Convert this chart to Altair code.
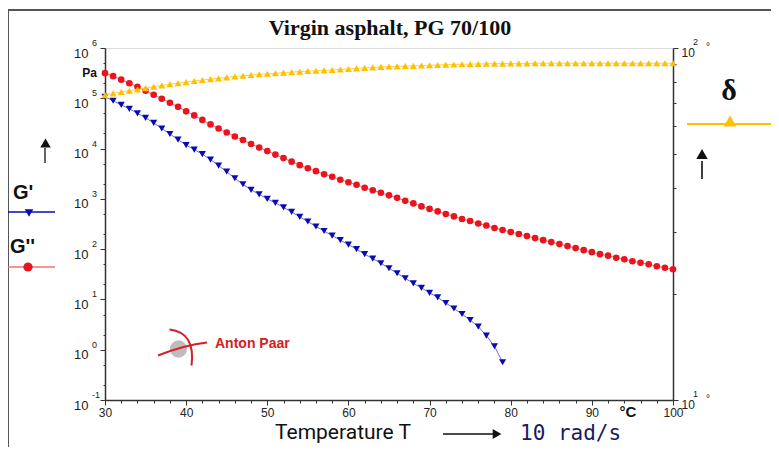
import altair as alt
import pandas as pd

# ---------------- data ----------------
TITLE = "Virgin asphalt, PG 70/100"
X_TITLE = "Temperature T"
FREQ_TEXT = "10 rad/s"
T_UNIT = "°C"
G_UNIT = "Pa"
LOGO_TEXT = "Anton Paar"

T_GP = list(range(30, 80))          # °C
G_PRIME = [107200, 89100, 74100, 61700, 50100, 40700, 32400, 25100, 19500, 15100,
           11700, 9550, 7760, 6030, 4570, 3470, 2570, 1950, 1510, 1230,
           1000, 832, 676, 550, 437, 355, 282, 229, 186, 151,
           123, 100, 79.4, 64.6, 52.5, 41.7, 33.1, 26.3, 20.9, 17.0,
           13.5, 11.0, 8.51, 6.61, 5.13, 3.89, 2.88, 1.91, 1.17, 0.562]

T_GPP = list(range(30, 101))        # °C
G_DPRIME = [316000, 275400, 234400, 199500, 169800, 141300, 117500, 97700, 81300, 67600,
            55000, 45700, 37200, 30200, 25100, 20900, 17400, 14800, 12300, 10500,
            8910, 7590, 6460, 5500, 4680, 4070, 3550, 3090, 2750, 2400,
            2140, 1910, 1660, 1480, 1320, 1175, 1047, 912, 813, 708,
            631, 562, 501, 447, 398, 363, 324, 295, 263, 240,
            219, 200, 182, 166, 151, 138, 126, 115, 105, 95.5,
            87.1, 79.4, 74.1, 67.6, 63.1, 57.5, 53.7, 50.1, 45.7, 42.7,
            39.8]

T_DELTA = list(range(30, 101))      # °C
DELTA = [73.5, 74.3, 75.0, 75.6, 76.2, 76.9, 77.6, 78.3, 78.9, 79.5,
         80.0, 80.6, 81.1, 81.6, 82.0, 82.5, 83.0, 83.4, 83.8, 84.2,
         84.5, 84.8, 85.1, 85.4, 85.7, 86.0, 86.2, 86.4, 86.6, 86.9,
         87.2, 87.5, 87.8, 88.1, 88.4, 88.6, 88.7, 88.9, 89.0, 89.2,
         89.3, 89.5, 89.6, 89.8, 89.9, 90.0, 90.1, 90.2, 90.3, 90.3,
         90.4, 90.4, 90.4, 90.5, 90.5, 90.5, 90.5, 90.5, 90.5, 90.5,
         90.5, 90.5, 90.5, 90.5, 90.5, 90.5, 90.5, 90.5, 90.5, 90.5,
         90.5]

X_TICKS = list(range(30, 101, 2))
LEFT_TICKS = [0.1, 0.2, 0.5, 1, 2, 5, 10, 20, 50, 100, 200, 500, 1000, 2000, 5000,
              10000, 20000, 50000, 100000, 200000, 500000, 1000000]
LEFT_DECADES = [0.1, 1, 10, 100, 1000, 10000, 100000, 1000000]
LEFT_EXPONENTS = ["-1", "0", "1", "2", "3", "4", "5", "6"]
RIGHT_TICKS = [10, 20, 30, 40, 50, 60, 70, 80, 90, 100]
RIGHT_DECADES = [10, 100]
RIGHT_EXPONENTS = ["1", "2"]

# ---------------- styles ----------------
BLUE = "#0a0ab4"
BLUE_LINE = "#6a6ae0"
RED = "#e8141e"
RED_LINE = "#f07070"
YELLOW = "#ffc000"
YELLOW_LINE = "#ffd24a"
AXIS = "#333333"
SANS = "Liberation Sans"

df_gp = pd.DataFrame({"T": T_GP, "value": G_PRIME})
df_gpp = pd.DataFrame({"T": T_GPP, "value": G_DPRIME})
df_d = pd.DataFrame({"T": T_DELTA, "delta": DELTA})
df_lexp = pd.DataFrame({"value": LEFT_DECADES, "exp": LEFT_EXPONENTS})
df_rexp = pd.DataFrame({"delta": RIGHT_DECADES, "exp": RIGHT_EXPONENTS})
dummy = pd.DataFrame({"d": [0]})

MAJ = "abs(log(datum.value)/LN10 - round(log(datum.value)/LN10)) < 0.001"

x_enc = alt.X(
    "T:Q",
    scale=alt.Scale(domain=[30, 100], nice=False, zero=False),
    axis=alt.Axis(
        values=X_TICKS, title=None, grid=False,
        labelExpr="datum.value % 10 == 0 ? datum.label : ''",
        tickSize={"condition": {"test": "datum.value % 10 == 0", "value": 5}, "value": 3},
        labelFlush=False, labelOverlap=False, labelFont=SANS, labelFontSize=12,
        labelColor="#222", labelPadding=2, domainColor=AXIS, tickColor=AXIS,
        domainWidth=1.5,
    ),
)

left_scale = alt.Scale(type="log", domain=[0.1, 1000000], nice=False)
left_axis = alt.Axis(
    orient="left", values=LEFT_TICKS, title=None, grid=False,
    labelExpr=f"{MAJ} ? '10' : ''",
    tickSize={"condition": {"test": MAJ, "value": 5}, "value": 2},
    labelOverlap=False, labelFont=SANS, labelFontSize=13, labelColor="#222",
    labelPadding=12, labelOffset=5, domainColor=AXIS, tickColor=AXIS, domainWidth=1.5,
)
y_left = alt.Y("value:Q", scale=left_scale, axis=left_axis)

right_scale = alt.Scale(type="log", domain=[10, 100], nice=False)
right_axis = alt.Axis(
    orient="right", values=RIGHT_TICKS, title=None, grid=False,
    labelExpr=f"{MAJ} ? '10' : ''",
    tickSize={"condition": {"test": MAJ, "value": 5}, "value": 3},
    labelOverlap=False, labelFont=SANS, labelFontSize=12, labelColor="#222",
    labelPadding=3, labelOffset=4, domainColor=AXIS, tickColor=AXIS, domainWidth=1.5,
)
y_right = alt.Y("delta:Q", scale=right_scale, axis=right_axis)

# ---------------- data layers ----------------
line_gp = alt.Chart(df_gp).mark_line(color=BLUE_LINE, strokeWidth=1).encode(x=x_enc, y=y_left)
pts_gp = alt.Chart(df_gp).mark_point(shape="triangle-down", filled=True, size=50,
                                     color=BLUE, opacity=1).encode(x=x_enc, y=y_left)
line_gpp = alt.Chart(df_gpp).mark_line(color=RED_LINE, strokeWidth=1).encode(x=x_enc, y=y_left)
pts_gpp = alt.Chart(df_gpp).mark_point(shape="circle", filled=True, size=44,
                                       color=RED, opacity=1).encode(x=x_enc, y=y_left)
exp_left = alt.Chart(df_lexp).mark_text(align="left", baseline="middle", dy=-5,
                                        fontSize=9, font=SANS, color="#222").encode(
    x=alt.value(-13), y=y_left, text="exp:N")

line_d = alt.Chart(df_d).mark_line(color=YELLOW_LINE, strokeWidth=1).encode(x=x_enc, y=y_right)
pts_d = alt.Chart(df_d).mark_point(shape="triangle-up", filled=True, size=50,
                                   color=YELLOW, opacity=1).encode(x=x_enc, y=y_right)
exp_right = alt.Chart(df_rexp).mark_text(align="left", baseline="middle", dy=-6,
                                         fontSize=9, font=SANS, color="#222").encode(
    x=alt.value(588), y=y_right, text="exp:N")
deg_right = alt.Chart(df_rexp).mark_text(align="left", baseline="middle", dy=-1,
                                         fontSize=10, font=SANS, color="#222").encode(
    x=alt.value(601), y=y_right, text=alt.value("°"))

left = alt.layer(line_gp, pts_gp, line_gpp, pts_gpp, exp_left)
right = alt.layer(line_d, pts_d, exp_right, deg_right)

# ---------------- annotations ----------------
def txt(s, x, y, size, **kw):
    return alt.Chart(dummy).mark_text(text=s, fontSize=size, **kw).encode(
        x=alt.value(x), y=alt.value(y))

def rule(x, x2, y, y2, color, width):
    return alt.Chart(dummy).mark_rule(color=color, strokeWidth=width).encode(
        x=alt.value(x), x2=alt.value(x2), y=alt.value(y), y2=alt.value(y2))

def sym(shape, x, y, size, color, filled=True, **kw):
    return alt.Chart(dummy).mark_point(shape=shape, size=size, filled=filled, color=color,
                                       opacity=1, **kw).encode(x=alt.value(x), y=alt.value(y))

SWOOSH = ("M-0.96,0.3 Q0.1,-0.12 1,-0.22 "
          "M-0.5,-0.74 Q0.55,-0.62 0.38,0.7")

annots = [
    rule(-97, 666, -38, -38, "#555", 2),
    rule(-97, -97, -38, 400, "#555", 2),
    txt(TITLE, 285, -20, 22, font="Liberation Serif", fontWeight="bold", color="#111",
        align="center", baseline="middle"),
    txt(G_UNIT, -8, 25, 12, font=SANS, fontWeight="bold", color="#111",
        align="right", baseline="middle"),
    # left legend
    rule(-60, -60, 100, 115, "#111", 1.3),
    sym("triangle-up", -59.5, 95, 110, "#111"),
    txt("G'", -92, 145, 20, font=SANS, fontWeight="bold", color="#111",
        align="left", baseline="middle"),
    rule(-97, -50, 164, 164, BLUE, 1.5),
    sym("triangle-down", -76, 165, 75, BLUE),
    txt("G''", -95, 199, 20, font=SANS, fontWeight="bold", color="#111",
        align="left", baseline="middle"),
    rule(-97, -50, 219, 219, RED_LINE, 1.5),
    sym("circle", -77, 219, 85, RED),
    # right legend
    txt("δ", 624, 43, 30, font="Liberation Serif", fontWeight="bold", color="#111",
        align="center", baseline="middle"),
    rule(582, 666, 76, 76, YELLOW, 2),
    sym("triangle-up", 625, 73, 160, YELLOW),
    rule(597, 597, 113, 131, "#111", 1.6),
    sym("triangle-up", 597, 106, 130, "#111"),
    # bottom labels
    txt(T_UNIT, 523, 364, 15, font=SANS, fontWeight="bold", color="#111",
        align="center", baseline="middle"),
    txt(X_TITLE, 238, 385, 21, font="Roboto", color="#111",
        align="center", baseline="middle"),
    rule(338, 388, 386, 386, "#111", 1.5),
    sym("triangle-right", 392, 386, 100, "#111"),
    txt(FREQ_TEXT, 415, 386, 21, font="DejaVu Sans Mono", color="#1a1a5e",
        align="left", baseline="middle"),
    # logo
    sym("circle", 73.5, 301, 300, "#bdbdbd"),
    sym(SWOOSH, 77, 300, 2500, "#d42027", filled=False, strokeWidth=2),
    txt(LOGO_TEXT, 110, 296, 14, font=SANS, fontWeight="bold", color="#d42027",
        align="left", baseline="middle"),
]

chart = alt.layer(left, right, *annots).resolve_scale(y="independent").properties(
    width=568, height=352,
    autosize=alt.AutoSizeParams(type="none"),
    padding={"left": 97, "top": 40, "right": 98, "bottom": 47},
).configure_view(stroke=AXIS, strokeWidth=1.5).configure(background="white")

chart.save("out.html", embed_options={"renderer": "svg", "actions": False})
